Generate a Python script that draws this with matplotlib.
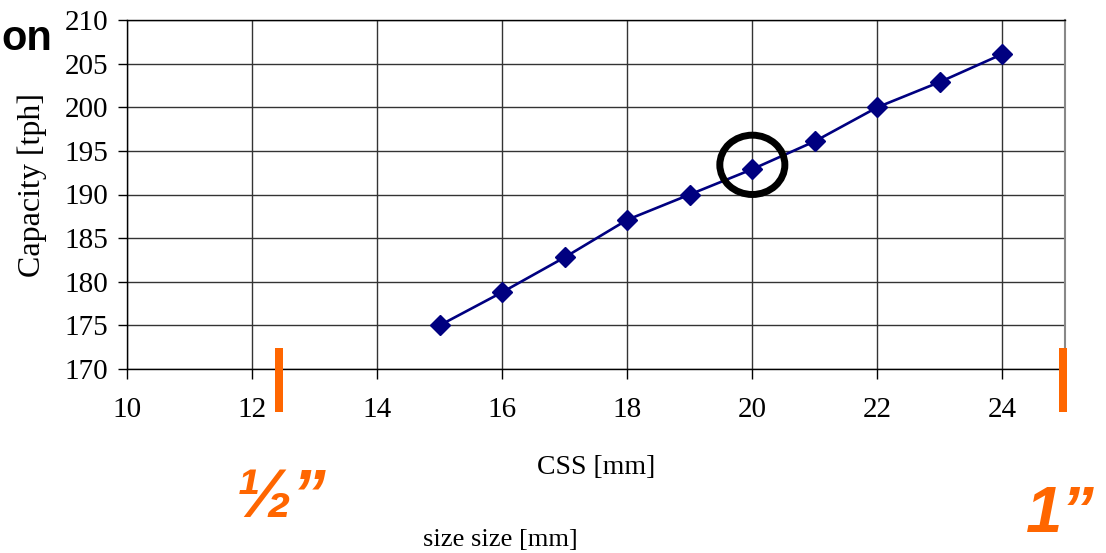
import matplotlib
matplotlib.use("Agg")
import matplotlib.pyplot as plt
from matplotlib.patches import Ellipse, Rectangle

# Crusher capacity vs closed side setting
css_mm = [15, 16, 17, 18, 19, 20, 21, 22, 23, 24]
capacity_tph = [175, 178.8, 182.8, 187.1, 190, 192.9, 196.1, 200, 202.9, 206.1]
x_ticks = [10, 12, 14, 16, 18, 20, 22, 24]
y_ticks = [170, 175, 180, 185, 190, 195, 200, 205, 210]
highlight_css = 20

W, H = 1106, 553
fig = plt.figure(figsize=(W / 100, H / 100), dpi=100)
fig.patch.set_facecolor("white")

serif = ["Liberation Serif", "DejaVu Serif"]
sans = ["Liberation Sans", "DejaVu Sans"]

ax = fig.add_axes([127 / W, 1 - 369 / H, (1065 - 127) / W, (369 - 20) / H])
ax.set_xlim(10, 25)
ax.set_ylim(170, 210)
ax.set_xticks(x_ticks)
ax.set_yticks(y_ticks)
ax.grid(True, color="#333333", linewidth=1.0)
ax.set_axisbelow(True)

for lab in ax.get_xticklabels() + ax.get_yticklabels():
    lab.set_fontfamily(serif)
    lab.set_fontsize(21)
ax.tick_params(axis="x", direction="out", length=7, width=1, pad=13)
ax.tick_params(axis="y", direction="out", length=6.5, width=1, pad=7)
ax.tick_params(top=False, right=False)

for side in ("left", "bottom", "top"):
    ax.spines[side].set_color("black")
    ax.spines[side].set_linewidth(1.0)
ax.spines["right"].set_color("#888888")
ax.spines["right"].set_linewidth(1.5)

ax.plot(css_mm, capacity_tph, color="#000080", linewidth=1.9,
        marker="D", markersize=10, markerfacecolor="#000080",
        markeredgecolor="#000080", zorder=3)

# circle around the 20 mm point
idx = css_mm.index(highlight_css)
ax.add_patch(Ellipse((highlight_css, capacity_tph[idx] + 0.5), 1.04, 6.8,
                     fill=False, edgecolor="black", linewidth=5, zorder=4))

ax.set_xlabel("CSS [mm]", fontfamily=serif, fontsize=20)
ax.xaxis.set_label_coords(0.5, (369 - 455) / (369 - 20))
ax.set_ylabel("Capacity [tph]", fontfamily=serif, fontsize=23, va="center")
ax.yaxis.set_label_coords((32 - 127) / (1065 - 127), (369 - 185) / (369 - 20))

# orange size markers
for x0 in (275, 1059):
    fig.add_artist(Rectangle((x0 / W, 1 - 412 / H), 8 / W, 64 / H,
                             transform=fig.transFigure, facecolor="#FF6600",
                             edgecolor="none"))

fig.text(236 / W, 1 - 517 / H, "\u00bd\u201d", color="#FF6600", fontsize=49,
         fontweight="bold", fontstyle="italic", family=sans,
         ha="left", va="baseline")
fig.text(1095 / W, 1 - 532 / H, "1\u201d", color="#FF6600", fontsize=47,
         fontweight="bold", fontstyle="italic", family=sans,
         ha="right", va="baseline")

fig.text(1 / W, 1 - 50 / H, "on", color="black", fontsize=30,
         fontweight="bold", family=sans, ha="left", va="baseline")

fig.text(500 / W, 1 - 540 / H, "size size [mm]", color="black", fontsize=19,
         family=serif, ha="center", va="center")

fig.savefig("out.png", dpi=100)
